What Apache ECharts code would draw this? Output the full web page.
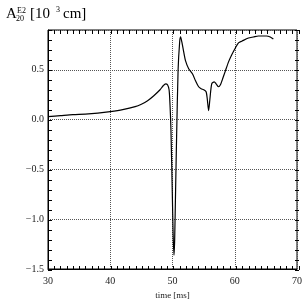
<!DOCTYPE html>
<html><head><meta charset="utf-8">
<script src="https://cdn.jsdelivr.net/npm/echarts@6/dist/echarts.min.js"></script>
<style>html,body{margin:0;padding:0;background:#fff}#c{width:305px;height:305px}</style>
</head><body><div id="c"></div>
<script>
var times = [30,32,34,36,38,40,42,44,45,46,47,48,48.5,48.9,49.2,49.45,49.6,49.75,49.97,50.1,50.24,50.35,50.5,50.65,50.9,51.15,51.3,51.5,51.8,52.1,52.6,53.2,53.7,54.2,54.6,55.0,55.4,55.6,55.8,56.0,56.3,56.7,57.0,57.4,57.7,58.0,58.5,59.0,59.5,60.1,60.6,61.2,62.2,63.0,63.8,65.1,65.7,66.2];
var values = [0.03,0.04,0.05,0.055,0.065,0.08,0.10,0.13,0.155,0.19,0.24,0.30,0.34,0.36,0.35,0.30,0.15,-0.1,-0.74,-1.15,-1.36,-1.2,-0.7,-0.2,0.5,0.78,0.83,0.78,0.68,0.59,0.51,0.46,0.39,0.33,0.31,0.30,0.28,0.2,0.09,0.2,0.36,0.38,0.36,0.33,0.35,0.40,0.49,0.58,0.65,0.72,0.77,0.79,0.82,0.83,0.84,0.84,0.83,0.81];
var xTickLabels = ['30','40','50','60','70'];
var yTickLabels = ['\u22121.5','\u22121.0','\u22120.5','0.0','0.5'];

var FONT = 'Liberation Serif';
var data = times.map(function(t,i){return [t, values[i]];});
var chart = echarts.init(document.getElementById('c'));
var tickBase = {show:true, inside:true, length:4, lineStyle:{color:'#000', width:1}};
var hidden = {show:false};
var noLine = {show:false, onZero:false};
var G = {left:48, right:6, top:30, bottom:35};
function tickX(gi, pos){return {type:'value', gridIndex:gi, min:30, max:70, interval:1, position:pos, axisLine:noLine, axisTick:tickBase, axisLabel:hidden, splitLine:hidden};}
function tickY(gi, pos){return {type:'value', gridIndex:gi, min:-1.5, max:0.9, interval:0.1, position:pos, axisLine:noLine, axisTick:tickBase, axisLabel:hidden, splitLine:hidden};}
chart.setOption({
  animation:false,
  grid:[
    {left:G.left, right:G.right, top:G.top, bottom:G.bottom, show:true, borderColor:'#000', borderWidth:1},
    {left:G.left, right:G.right, top:G.top, bottom:G.bottom},
    {left:G.left, right:G.right, top:G.top, bottom:G.bottom}
  ],
  xAxis:[
    {type:'value', gridIndex:0, min:30, max:70, interval:10, position:'bottom',
     axisLine:{show:true, onZero:false, lineStyle:{color:'#000'}}, axisTick:hidden,
     axisLabel:{show:true, color:'#222', fontFamily:FONT, fontSize:10, margin:7,
       formatter:function(v){var i=Math.round((v-30)/10);return xTickLabels[i]||'';}},
     splitLine:{show:true, lineStyle:{type:'dotted', color:'#555', width:1}},
     name:'time [ms]', nameLocation:'middle', nameGap:22, nameTextStyle:{fontFamily:FONT, fontSize:9, color:'#222'}},
    tickX(1,'bottom'), tickX(2,'top')
  ],
  yAxis:[
    {type:'value', gridIndex:0, min:-1.5, max:0.9, interval:0.5, position:'left',
     axisLine:{show:true, onZero:false, lineStyle:{color:'#000'}}, axisTick:hidden,
     axisLabel:{show:true, showMaxLabel:false, color:'#222', fontFamily:FONT, fontSize:10, margin:4,
       formatter:function(v){var i=Math.round((v+1.5)/0.5);return (Math.abs((v+1.5)/0.5-i)<1e-6)?(yTickLabels[i]||''):'';}},
     splitLine:{show:true, lineStyle:{type:'dotted', color:'#555', width:1}}},
    tickY(1,'left'), tickY(2,'right')
  ],
  series:[{type:'line', xAxisIndex:0, yAxisIndex:0, data:data, showSymbol:false, smooth:0.25,
    lineStyle:{color:'#000', width:1.2}}],
  graphic:[
    {type:'text', left:6, top:7, style:{text:'A', font:'15px '+FONT, fill:'#000'}},
    {type:'text', left:17, top:7, style:{text:'E2', font:'8px '+FONT, fill:'#000'}},
    {type:'text', left:16, top:15, style:{text:'20', font:'8px '+FONT, fill:'#000'}},
    {type:'text', left:30, top:7, style:{text:'[10', font:'15px '+FONT, fill:'#000'}},
    {type:'text', left:56, top:6, style:{text:'3', font:'8px '+FONT, fill:'#000'}},
    {type:'text', left:63, top:7, style:{text:'cm]', font:'15px '+FONT, fill:'#000'}}
  ]
});
</script></body></html>
